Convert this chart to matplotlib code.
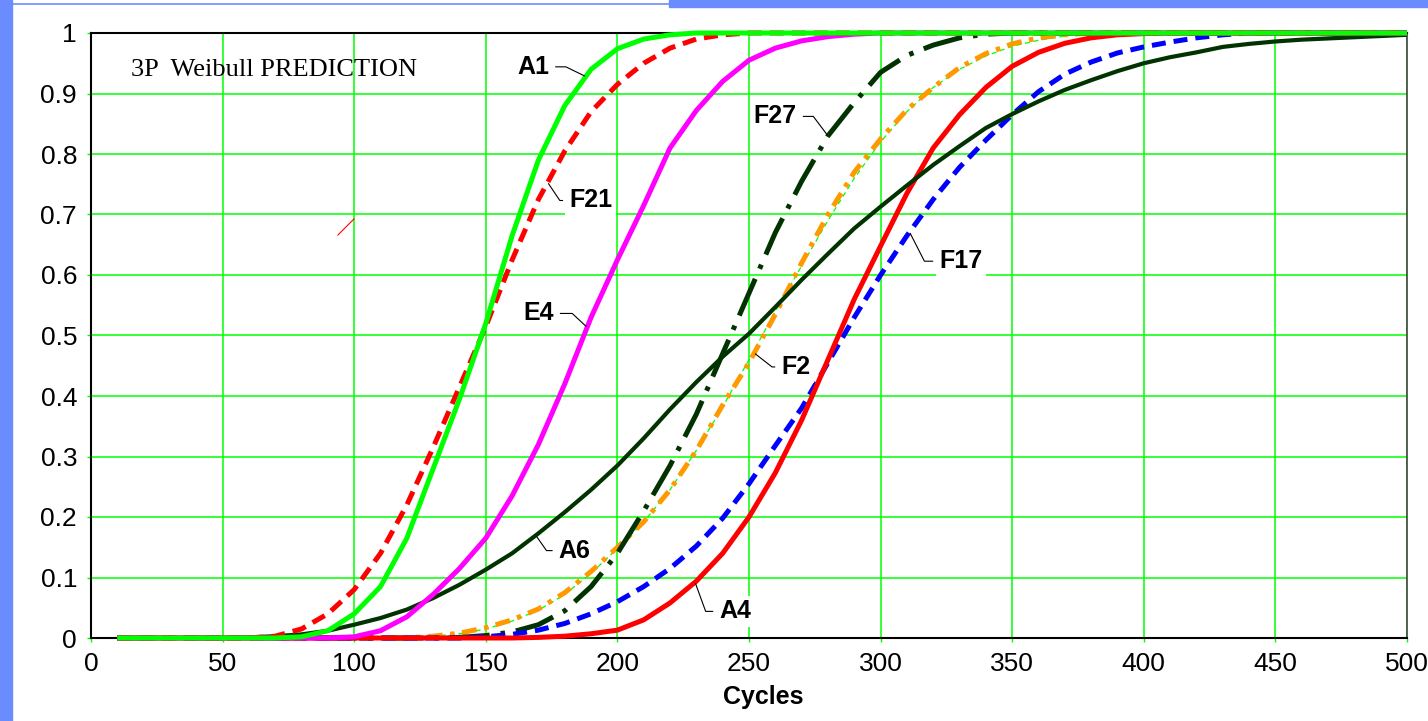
import matplotlib.pyplot as plt
import matplotlib.ticker as mticker
from matplotlib.patches import Rectangle
from matplotlib.lines import Line2D
import numpy as np

plt.rcParams.update({
    "font.family": ["Liberation Sans", "DejaVu Sans"],
})

# Predicted cumulative failure fraction, sampled every 10 cycles
cycles = list(range(10, 510, 10))

A1 = [0, 0, 0, 0, 0, 0, 0,
      0.002, 0.012, 0.04, 0.085, 0.165, 0.28, 0.395, 0.52, 0.665, 0.79, 0.88, 0.94, 0.974, 0.99, 0.997,
      1, 1, 1, 1, 1, 1, 1, 1, 1, 1, 1, 1, 1, 1, 1, 1, 1, 1, 1, 1, 1, 1, 1, 1, 1, 1, 1, 1]
F21 = [0, 0, 0, 0, 0, 0,
       0.003, 0.015, 0.04, 0.08, 0.14, 0.22, 0.315, 0.415, 0.515, 0.625, 0.725, 0.805, 0.87, 0.915,
       0.95, 0.975, 0.99, 0.997,
       1, 1, 1, 1, 1, 1, 1, 1, 1, 1, 1, 1, 1, 1, 1, 1, 1, 1, 1, 1, 1, 1, 1, 1, 1, 1]
E4 = [0, 0, 0, 0, 0, 0, 0, 0, 0,
      0.002, 0.012, 0.035, 0.072, 0.115, 0.165, 0.235, 0.32, 0.42, 0.53, 0.625, 0.715, 0.81, 0.872,
      0.92, 0.955, 0.975, 0.987, 0.994, 0.998,
      1, 1, 1, 1, 1, 1, 1, 1, 1, 1, 1, 1, 1, 1, 1, 1, 1, 1, 1, 1, 1]
A6 = [0, 0, 0, 0, 0,
      0.001, 0.003, 0.006, 0.012, 0.022, 0.033, 0.047, 0.066, 0.088, 0.113, 0.14, 0.173, 0.208, 0.245,
      0.285, 0.33, 0.378, 0.423, 0.465, 0.503, 0.547, 0.592, 0.635, 0.677, 0.713, 0.748, 0.782, 0.813,
      0.843, 0.866, 0.887, 0.906, 0.922, 0.937, 0.95, 0.96, 0.968, 0.977, 0.982, 0.986, 0.989, 0.991,
      0.993, 0.995, 0.997]
F27 = [0, 0, 0, 0, 0, 0, 0, 0, 0, 0, 0, 0, 0,
       0.001, 0.004, 0.01, 0.022, 0.045, 0.085, 0.14, 0.21, 0.285, 0.37, 0.47, 0.57, 0.67, 0.755,
       0.83, 0.885, 0.935, 0.963, 0.98, 0.992, 0.998,
       1, 1, 1, 1, 1, 1, 1, 1, 1, 1, 1, 1, 1, 1, 1, 1]
F2 = [0, 0, 0, 0, 0, 0, 0, 0, 0, 0, 0, 0,
      0.003, 0.008, 0.017, 0.03, 0.048, 0.075, 0.11, 0.15, 0.192, 0.245, 0.31, 0.385, 0.455, 0.535,
      0.62, 0.70, 0.77, 0.825, 0.873, 0.91, 0.943, 0.966, 0.982, 0.992, 0.997,
      1, 1, 1, 1, 1, 1, 1, 1, 1, 1, 1, 1, 1]
F2_fit = [0, 0, 0, 0, 0, 0, 0, 0, 0, 0, 0, 0,
          0.003, 0.007, 0.015, 0.028, 0.046, 0.072, 0.107, 0.148, 0.192, 0.245, 0.31, 0.382, 0.46,
          0.54, 0.615, 0.69, 0.76, 0.82, 0.87, 0.91, 0.94, 0.962, 0.978, 0.988, 0.995,
          1, 1, 1, 1, 1, 1, 1, 1, 1, 1, 1, 1, 1]
A4 = [0, 0, 0, 0, 0, 0, 0, 0, 0, 0, 0, 0, 0, 0, 0, 0,
      0.001, 0.003, 0.007, 0.013, 0.03, 0.058, 0.094, 0.14, 0.2, 0.273, 0.36, 0.46, 0.56, 0.648,
      0.735, 0.81, 0.865, 0.91, 0.945, 0.968, 0.983, 0.992, 0.997, 0.999,
      1, 1, 1, 1, 1, 1, 1, 1, 1, 1]
F17 = [0, 0, 0, 0, 0, 0, 0, 0, 0, 0, 0, 0, 0, 0,
       0.002, 0.006, 0.013, 0.024, 0.04, 0.06, 0.085, 0.115, 0.152, 0.198, 0.255, 0.318, 0.38,
       0.455, 0.53, 0.60, 0.665, 0.725, 0.778, 0.823, 0.865, 0.903, 0.932, 0.952, 0.967, 0.977,
       0.985, 0.992, 0.997,
       1, 1, 1, 1, 1, 1, 1]

# stray pen stroke left on the sheet
stray_x = [93.8, 99.9]
stray_y = [0.666, 0.6926]

DKGREEN = "#003300"

fig = plt.figure(figsize=(14.28, 7.21), dpi=100)
ax = fig.add_axes([91 / 1428, 83 / 721, 1316 / 1428, 605 / 721])

# page border strips
fig.patches.append(Rectangle((0, 0), 12 / 1428, 1, transform=fig.transFigure,
                             color="#6b8cff", zorder=0))
fig.patches.append(Rectangle((669 / 1428, 1 - 7 / 721), 1, 7 / 721, transform=fig.transFigure,
                             color="#6b8cff", zorder=0))
fig.lines.append(Line2D([12 / 1428, 669 / 1428], [1 - 4 / 721, 1 - 4 / 721],
                        transform=fig.transFigure, color="#6b8cff", lw=1.2))

lw = 3.6
series = [
    ("F2_fit", F2_fit, "#00ff00", 0.9, (0, (4, 3))),
    ("F2", F2, "#ff9900", lw, (0, (3.0, 1.5, 0.9, 1.5))),
    ("F27", F27, DKGREEN, lw, (0, (8.0, 2.2, 0.9, 2.2))),
    ("F17", F17, "#0000ff", lw, (0, (2.8, 1.6))),
    ("A4", A4, "#ff0000", lw, "-"),
    ("A6", A6, DKGREEN, 3.0, "-"),
    ("E4", E4, "#ff00ff", lw, "-"),
    ("F21", F21, "#ff0000", lw, (0, (2.8, 1.6))),
    ("A1", A1, "#00ff00", lw, "-"),
]
data = {}
for i, (name, vals, col, w, ls) in enumerate(series):
    ax.plot(cycles, vals, color=col, lw=w, ls=ls, clip_on=False, zorder=3 + i * 0.1,
            solid_capstyle="butt")
    data[name] = vals

ax.plot(stray_x, stray_y, color="#ff0000", lw=0.8, zorder=3)

# curve labels: (name, cycle on curve, text offset in points, leader angle)
labels = [
    ("A1", 188, (-38, 7), -26),
    ("F21", 173.5, (31, -13), -56),
    ("E4", 188.5, (-35, 10), -43),
    ("F27", 280, (-38, 14), -53),
    ("F2", 252, (30, -10), -38),
    ("F17", 311, (37, -21), -63),
    ("A6", 169, (28, -11), -55),
    ("A4", 229.5, (29, -21), -70),
]
for name, xc, off, ang in labels:
    yc = np.interp(xc, cycles, data[name])
    ax.annotate(name, (xc, yc), xytext=off, textcoords="offset points",
                ha="center", va="center", fontsize=18, fontweight="bold", zorder=6,
                bbox=dict(boxstyle="square,pad=0.15", fc="white", ec="none"),
                arrowprops=dict(arrowstyle="-", color="black", lw=0.8, shrinkA=2, shrinkB=1,
                                connectionstyle=f"angle,angleA=0,angleB={ang},rad=0"))

ax.text(0.0304, 0.939, "3P  Weibull PREDICTION", transform=ax.transAxes,
        fontsize=19, family=["Liberation Serif", "DejaVu Serif"], ha="left", va="center", zorder=6)

ax.set_xlim(0, 500)
ax.set_ylim(0, 1)
ax.xaxis.set_major_locator(mticker.MultipleLocator(50))
ax.yaxis.set_major_locator(mticker.MultipleLocator(0.1))
ax.yaxis.set_major_formatter(mticker.FuncFormatter(lambda v, _: f"{v:g}"))
ax.grid(True, color="#00ff00", lw=1.1, zorder=1)
ax.set_axisbelow(True)
ax.tick_params(axis="both", direction="out", length=3, width=1, color="#00ff00",
               labelsize=19, pad=7)

for side in ["left", "bottom", "top"]:
    ax.spines[side].set_color("black")
    ax.spines[side].set_linewidth(1.5)
ax.spines["right"].set_color("#444444")
ax.spines["right"].set_linewidth(1.2)

ax.text(0.511, -0.0975, "Cycles", transform=ax.transAxes, ha="center", va="center",
        fontsize=18, fontweight="bold")

fig.savefig("out.png", dpi=100, facecolor="white")
